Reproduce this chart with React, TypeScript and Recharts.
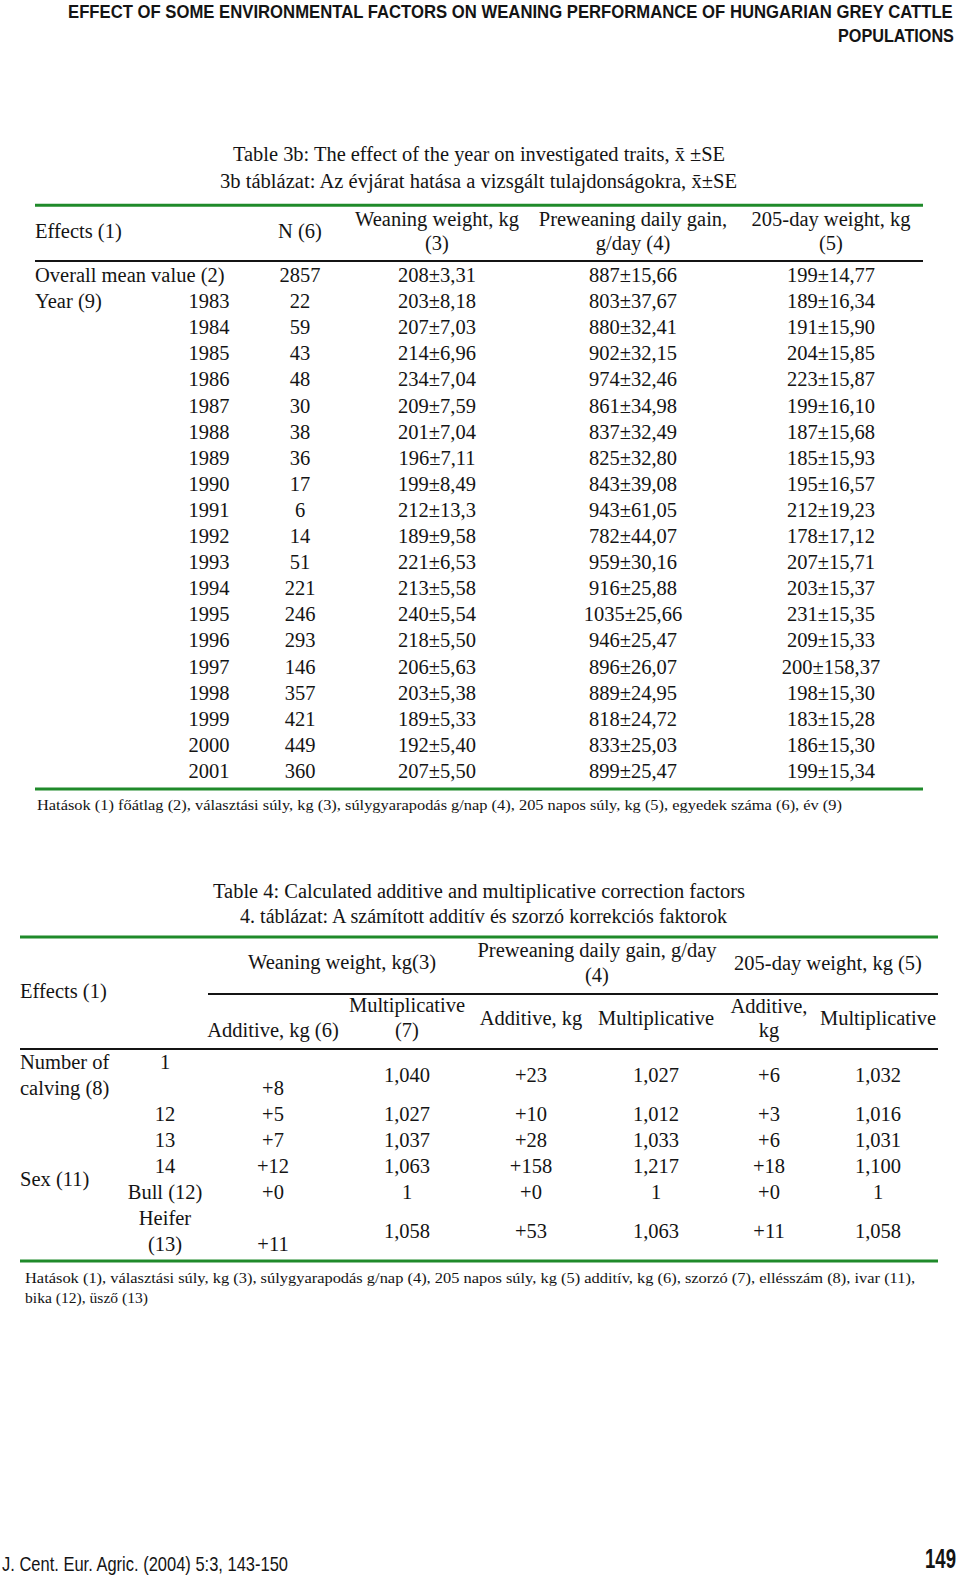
import React from "react";
import { ScatterChart, Scatter, XAxis, YAxis, ReferenceLine } from "recharts";

// ---- Table 3b data ----
const years = ["1983", "1984", "1985", "1986", "1987", "1988", "1989", "1990", "1991", "1992", "1993", "1994", "1995", "1996", "1997", "1998", "1999", "2000", "2001"];
// first entry = overall mean value, then one per year
const nValues = [2857, 22, 59, 43, 48, 30, 38, 36, 17, 6, 14, 51, 221, 246, 293, 146, 357, 421, 449, 360];
const weaningWeight = ["208±3,31", "203±8,18", "207±7,03", "214±6,96", "234±7,04", "209±7,59", "201±7,04", "196±7,11", "199±8,49", "212±13,3", "189±9,58", "221±6,53", "213±5,58", "240±5,54", "218±5,50", "206±5,63", "203±5,38", "189±5,33", "192±5,40", "207±5,50"];
const dailyGain = ["887±15,66", "803±37,67", "880±32,41", "902±32,15", "974±32,46", "861±34,98", "837±32,49", "825±32,80", "843±39,08", "943±61,05", "782±44,07", "959±30,16", "916±25,88", "1035±25,66", "946±25,47", "896±26,07", "889±24,95", "818±24,72", "833±25,03", "899±25,47"];
const weight205 = ["199±14,77", "189±16,34", "191±15,90", "204±15,85", "223±15,87", "199±16,10", "187±15,68", "185±15,93", "195±16,57", "212±19,23", "178±17,12", "207±15,71", "203±15,37", "231±15,35", "209±15,33", "200±158,37", "198±15,30", "183±15,28", "186±15,30", "199±15,34"];

// ---- Table 4 data ----
const levels = ["1", "12", "13", "14", "Bull (12)", "Heifer|(13)"];
const addWeaning = ["+8", "+5", "+7", "+12", "+0", "+11"];
const multWeaning = ["1,040", "1,027", "1,037", "1,063", "1", "1,058"];
const addGain = ["+23", "+10", "+28", "+158", "+0", "+53"];
const multGain = ["1,027", "1,012", "1,033", "1,217", "1", "1,063"];
const add205 = ["+6", "+3", "+6", "+18", "+0", "+11"];
const mult205 = ["1,032", "1,016", "1,031", "1,100", "1", "1,058"];
const rowTop = [0, 2, 3, 4, 5, 6];
const rowSpan = [2, 1, 1, 1, 1, 2];

const serif = '"Liberation Serif", "Times New Roman", Times, serif';
const narrow = '"Liberation Sans Narrow", "Arial Narrow", "Liberation Sans", Arial, sans-serif';
const GREEN = "#1f8a2a";
const INK = "#141414";

type CellT = { x: number; y: number; text: string; anchor?: "start" | "middle" | "end" };

const CellText = (props: any) => {
  const { cx, cy, payload } = props;
  return (
    <text x={cx} y={cy} textAnchor={payload.anchor ?? "middle"} fontFamily={serif} fontSize={20.5} fill={INK}>
      {payload.text}
    </text>
  );
};

// column centres (layout)
const c3 = { label: 35, year: 209, n: 300, ww: 437, gain: 633, w205: 831 };
const c4 = { label: 20, level: 165, aw: 273, mw: 407, ag: 531, mg: 656, a5: 769, m5: 878 };

const cells3: CellT[] = [
  { x: c3.label, y: -1.68, text: "Effects (1)", anchor: "start" },
  { x: c3.n, y: -1.68, text: "N (6)" },
  { x: c3.ww, y: -2.14, text: "Weaning weight, kg" },
  { x: c3.ww, y: -1.22, text: "(3)" },
  { x: c3.gain, y: -2.14, text: "Preweaning daily gain," },
  { x: c3.gain, y: -1.22, text: "g/day (4)" },
  { x: c3.w205, y: -2.14, text: "205-day weight, kg" },
  { x: c3.w205, y: -1.22, text: "(5)" },
  { x: c3.label, y: 0, text: "Overall mean value (2)", anchor: "start" },
  { x: c3.label, y: 1, text: "Year (9)", anchor: "start" },
];
years.forEach((yr, i) => cells3.push({ x: c3.year, y: i + 1, text: yr }));
nValues.forEach((v, i) => {
  cells3.push({ x: c3.n, y: i, text: String(v) });
  cells3.push({ x: c3.ww, y: i, text: weaningWeight[i] });
  cells3.push({ x: c3.gain, y: i, text: dailyGain[i] });
  cells3.push({ x: c3.w205, y: i, text: weight205[i] });
});

const cells4: CellT[] = [
  { x: c4.label, y: -2.75, text: "Effects (1)", anchor: "start" },
  { x: 342, y: -3.85, text: "Weaning weight, kg(3)" },
  { x: 597, y: -4.31, text: "Preweaning daily gain, g/day" },
  { x: 597, y: -3.35, text: "(4)" },
  { x: 828, y: -3.81, text: "205-day weight, kg (5)" },
  { x: c4.aw, y: -1.23, text: "Additive, kg (6)" },
  { x: c4.mw, y: -2.19, text: "Multiplicative" },
  { x: c4.mw, y: -1.23, text: "(7)" },
  { x: c4.ag, y: -1.69, text: "Additive, kg" },
  { x: c4.mg, y: -1.69, text: "Multiplicative" },
  { x: c4.a5, y: -2.15, text: "Additive," },
  { x: c4.a5, y: -1.23, text: "kg" },
  { x: c4.m5, y: -1.69, text: "Multiplicative" },
  { x: c4.label, y: 0, text: "Number of", anchor: "start" },
  { x: c4.label, y: 1, text: "calving (8)", anchor: "start" },
  { x: c4.label, y: 4.5, text: "Sex (11)", anchor: "start" },
];
levels.forEach((lv, i) => {
  const top = rowTop[i];
  const bottom = top + rowSpan[i] - 1;
  const mid = top + (rowSpan[i] - 1) / 2;
  lv.split("|").forEach((part, k) => cells4.push({ x: c4.level, y: top + k, text: part }));
  cells4.push({ x: c4.aw, y: bottom, text: addWeaning[i] });
  cells4.push({ x: c4.mw, y: mid, text: multWeaning[i] });
  cells4.push({ x: c4.ag, y: mid, text: addGain[i] });
  cells4.push({ x: c4.mg, y: mid, text: multGain[i] });
  cells4.push({ x: c4.a5, y: mid, text: add205[i] });
  cells4.push({ x: c4.m5, y: mid, text: mult205[i] });
});

const W = 960;
const H = 1578;
const abs: React.CSSProperties = { position: "absolute", left: 0, top: 0 };

function Table3b() {
  // row 0 baseline at 282, pitch 26.1
  const pitch = 26.1;
  const top = 282 - 4 * pitch;
  const bottom = H - (282 + 20 * pitch);
  return (
    <ScatterChart width={W} height={H} margin={{ top, bottom, left: 0, right: 0 }} style={abs}>
      <XAxis type="number" dataKey="x" domain={[0, W]} hide allowDataOverflow height={0} />
      <YAxis type="number" dataKey="y" domain={[-4, 20]} reversed hide allowDataOverflow width={0} />
      <ReferenceLine segment={[{ x: 35, y: -2.94 }, { x: 923, y: -2.94 }]} stroke={GREEN} strokeWidth={3} />
      <ReferenceLine segment={[{ x: 35, y: -0.8 }, { x: 923, y: -0.8 }]} stroke={INK} strokeWidth={2} />
      <ReferenceLine segment={[{ x: 35, y: 19.43 }, { x: 923, y: 19.43 }]} stroke={GREEN} strokeWidth={3} />
      <Scatter data={cells3} shape={CellText} isAnimationActive={false} />
    </ScatterChart>
  );
}

function Table4() {
  // line 0 baseline at 1069, pitch 26
  const pitch = 26;
  const top = 1069 - 6 * pitch;
  const bottom = H - (1069 + 8 * pitch);
  return (
    <ScatterChart width={W} height={H} margin={{ top, bottom, left: 0, right: 0 }} style={abs}>
      <XAxis type="number" dataKey="x" domain={[0, W]} hide allowDataOverflow height={0} />
      <YAxis type="number" dataKey="y" domain={[-6, 8]} reversed hide allowDataOverflow width={0} />
      <ReferenceLine segment={[{ x: 20, y: -5.08 }, { x: 938, y: -5.08 }]} stroke={GREEN} strokeWidth={3} />
      <ReferenceLine segment={[{ x: 208, y: -2.88 }, { x: 938, y: -2.88 }]} stroke={INK} strokeWidth={2} />
      <ReferenceLine segment={[{ x: 20, y: -0.77 }, { x: 938, y: -0.77 }]} stroke={INK} strokeWidth={2} />
      <ReferenceLine segment={[{ x: 20, y: 7.38 }, { x: 938, y: 7.38 }]} stroke={GREEN} strokeWidth={3} />
      <Scatter data={cells4} shape={CellText} isAnimationActive={false} />
    </ScatterChart>
  );
}

const fit = { lengthAdjust: "spacingAndGlyphs" as const };

// squeeze a sans line horizontally to a target width (condensed look)
let ctx: CanvasRenderingContext2D | null = null;
function measure(text: string, font: string) {
  if (!ctx) ctx = document.createElement("canvas").getContext("2d");
  if (!ctx) return 0;
  ctx.font = font;
  return ctx.measureText(text).width;
}

function Squeezed({ x, y, size, bold, width, children }: { x: number; y: number; size: number; bold?: boolean; width: number; children: string }) {
  const natural = measure(children, `${bold ? "bold " : ""}${size}px ${narrow}`) || width;
  const sx = width / natural;
  return (
    <text
      transform={`translate(${x},${y}) scale(${sx},1)`}
      fontFamily={narrow}
      fontWeight={bold ? "bold" : "normal"}
      fontSize={size}
      fill={INK}
    >
      {children}
    </text>
  );
}

function PageText() {
  return (
    <svg width={W} height={H} style={{ ...abs, pointerEvents: "none" }}>
      <Squeezed x={68} y={17.5} size={18.5} bold width={886}>
        EFFECT OF SOME ENVIRONMENTAL FACTORS ON WEANING PERFORMANCE OF HUNGARIAN GREY CATTLE
      </Squeezed>
      <Squeezed x={838} y={41.7} size={18.5} bold width={116}>
        POPULATIONS
      </Squeezed>
      <Squeezed x={925} y={1568} size={27} bold width={31}>
        149
      </Squeezed>
      <Squeezed x={2} y={1571} size={20} width={287}>
        J. Cent. Eur. Agric. (2004) 5:3, 143-150
      </Squeezed>
      <g fontFamily={serif} fontSize={20.5} fill={INK}>
        <text x={233} y={161} textLength={492} {...fit}>
          Table 3b: The effect of the year on investigated traits, x̄ ±SE
        </text>
        <text x={220} y={188} textLength={517} {...fit}>
          3b táblázat: Az évjárat hatása a vizsgált tulajdonságokra, x̄±SE
        </text>
        <text x={213} y={898} textLength={532} {...fit}>
          Table 4: Calculated additive and multiplicative correction factors
        </text>
        <text x={240} y={923} textLength={487} {...fit}>
          4. táblázat: A számított additív és szorzó korrekciós faktorok
        </text>
      </g>
      <g fontFamily={serif} fontSize={15.5} fill={INK}>
        <text x={37} y={810} textLength={805} {...fit}>
          Hatások (1) főátlag (2), választási súly, kg (3), súlygyarapodás g/nap (4), 205 napos súly, kg (5), egyedek száma (6), év (9)
        </text>
        <text x={25} y={1283} textLength={890} {...fit}>
          Hatások (1), választási súly, kg (3), súlygyarapodás g/nap (4), 205 napos súly, kg (5) additív, kg (6), szorzó (7), ellésszám (8), ivar (11),
        </text>
        <text x={25} y={1303} textLength={123} {...fit}>
          bika (12), üsző (13)
        </text>
      </g>
    </svg>
  );
}

export default function App() {
  return (
    <div style={{ position: "absolute", left: 0, top: 0, width: W, height: H, background: "#fff", overflow: "hidden" }}>
      <Table3b />
      <Table4 />
      <PageText />
    </div>
  );
}
